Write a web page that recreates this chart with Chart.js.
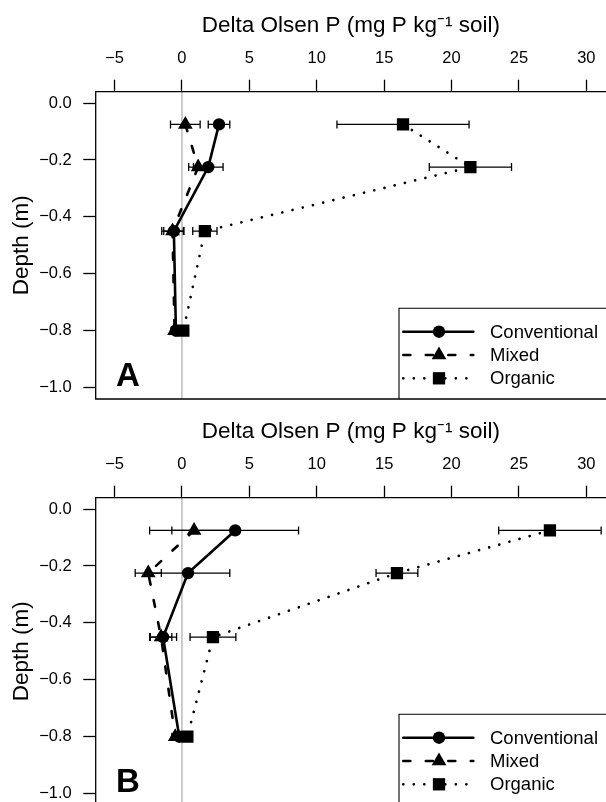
<!DOCTYPE html>
<html><head><meta charset="utf-8">
<script src="https://cdn.jsdelivr.net/npm/chart.js@4.4.1/dist/chart.umd.min.js"></script>
<style>
html,body{margin:0;padding:0;background:#fff;overflow:hidden;width:606px;height:802px;}
.panel{position:absolute;left:0;width:606px;height:406px;}
canvas{display:block;}
</style></head><body>
<div class="panel" style="top:0"><canvas id="cA" width="606" height="406"></canvas></div>
<div class="panel" style="top:406px"><canvas id="cB" width="606" height="406"></canvas></div>
<script>
// ---- data ----
const depths = [-0.075, -0.225, -0.45, -0.8];
const seriesNames = ['Conventional', 'Mixed', 'Organic'];
const xTicks = [-5, 0, 5, 10, 15, 20, 25, 30];
const yTicks = [0, -0.2, -0.4, -0.6, -0.8, -1.0];
const xTitle = 'Delta Olsen P (mg P kg\u207B\u00B9 soil)';
const yTitle = 'Depth (m)';

// Panel A
const convA = [2.75, 1.95, -0.6, -0.45];
const convAErr = [0.8, 1.1, 0.75, 0.25];
const mixedA = [0.25, 1.2, -0.7, -0.55];
const mixedAErr = [1.1, 0.7, 0.8, 0.25];
const orgA = [16.4, 21.4, 1.7, 0.1];
const orgAErr = [4.9, 3.05, 0.9, 0.25];

// Panel B
const convB = [3.95, 0.45, -1.4, -0.2];
const convBErr = [4.7, 3.1, 1.0, 0.25];
const mixedB = [0.9, -2.5, -1.55, -0.5];
const mixedBErr = [3.3, 0.97, 0.8, 0.25];
const orgB = [27.3, 15.95, 2.3, 0.4];
const orgBErr = [3.8, 1.55, 1.7, 0.25];

// ---- styling ----
const FONT = '"Liberation Sans", Arial, Helvetica, sans-serif';
Chart.defaults.font.family = FONT;
Chart.defaults.color = '#000';
const styles = [
  {pointStyle: 'circle', radius: 6.2, dash: [], width: 2.6},
  {pointStyle: 'triangle', radius: 8.5, dash: [7, 15.5], width: 2.6},
  {pointStyle: 'rect', radius: 8.7, dash: [0.01, 10.5], width: 2.7}
];

function fmtX(v) { return v < 0 ? '\u2212' + Math.abs(v) : String(v); }
function fmtY(v) {
  const r = Math.round(v * 10) / 10;
  return r === 0 ? '0.0' : (r < 0 ? '\u2212' : '') + Math.abs(r).toFixed(1);
}

function drawMarker(ctx, style, x, y, r) {
  ctx.beginPath();
  if (style === 'circle') {
    ctx.arc(x, y, r, 0, Math.PI * 2);
  } else if (style === 'triangle') {
    ctx.moveTo(x, y - r);
    ctx.lineTo(x + r * Math.sin(Math.PI * 2 / 3), y + r / 2);
    ctx.lineTo(x - r * Math.sin(Math.PI * 2 / 3), y + r / 2);
    ctx.closePath();
  } else {
    const s = r * Math.SQRT1_2;
    ctx.rect(x - s, y - s, 2 * s, 2 * s);
  }
  ctx.fillStyle = '#000';
  ctx.fill();
}

const decor = {
  id: 'decor',
  beforeDatasetsDraw(chart) {
    const {ctx, chartArea: a, scales: {x}} = chart;
    const px = x.getPixelForValue(0);
    ctx.save();
    ctx.strokeStyle = '#ababab';
    ctx.lineWidth = 1.2;
    ctx.beginPath();
    ctx.moveTo(px, a.top); ctx.lineTo(px, a.bottom);
    ctx.stroke();
    ctx.restore();
  },
  afterDatasetsDraw(chart, args, opts) {
    const {ctx, chartArea: a, scales: {x, y}} = chart;
    ctx.save();
    // error bars
    ctx.strokeStyle = '#000';
    ctx.lineWidth = 1.3;
    ctx.setLineDash([]);
    chart.data.datasets.forEach(ds => {
      ds.data.forEach((p, i) => {
        const e = ds.errors[i];
        const x1 = x.getPixelForValue(p.x - e), x2 = x.getPixelForValue(p.x + e);
        const py = y.getPixelForValue(p.y);
        ctx.beginPath();
        ctx.moveTo(x1, py); ctx.lineTo(x2, py);
        ctx.moveTo(x1, py - 4); ctx.lineTo(x1, py + 4);
        ctx.moveTo(x2, py - 4); ctx.lineTo(x2, py + 4);
        ctx.stroke();
      });
    });
    // frame (right edge lies outside the picture)
    ctx.lineWidth = 1.3;
    ctx.beginPath();
    ctx.moveTo(a.right + 2, a.top); ctx.lineTo(a.left, a.top);
    ctx.lineTo(a.left, a.bottom); ctx.lineTo(a.right + 2, a.bottom);
    ctx.stroke();
    // legend (bottom right)
    const bx = a.right - 207, by = a.bottom - 90.7;
    ctx.lineWidth = 1.1;
    ctx.beginPath();
    ctx.moveTo(a.right + 2, by); ctx.lineTo(bx, by); ctx.lineTo(bx, a.bottom);
    ctx.stroke();
    const rowY = [a.bottom - 67.3, a.bottom - 44, a.bottom - 20.7];
    const lx1 = bx + 4.3, lx2 = bx + 74.3, mx = bx + 40;
    ctx.font = '18.5px ' + FONT;
    ctx.textBaseline = 'middle';
    ctx.textAlign = 'left';
    ctx.fillStyle = '#000';
    chart.data.datasets.forEach((ds, k) => {
      const st = styles[k];
      ctx.save();
      ctx.lineWidth = st.width;
      ctx.lineCap = 'round';
      ctx.setLineDash(st.dash);
      ctx.beginPath();
      ctx.moveTo(lx1, rowY[k]); ctx.lineTo(lx2, rowY[k]);
      ctx.stroke();
      ctx.restore();
      drawMarker(ctx, st.pointStyle, mx, rowY[k], st.radius);
      ctx.fillText(ds.label, bx + 91, rowY[k] + 1);
    });
    // panel letter
    ctx.font = 'bold 33px ' + FONT;
    ctx.textBaseline = 'alphabetic';
    ctx.fillText(opts.letter, a.left + 20.3, a.bottom - 13);
    ctx.restore();
  }
};

function makePanel(id, letter, vals, errs) {
  const datasets = seriesNames.map((name, k) => ({
    label: name,
    data: depths.map((d, i) => ({x: vals[k][i], y: d})),
    errors: errs[k],
    showLine: true,
    borderColor: '#000',
    backgroundColor: '#000',
    borderWidth: styles[k].width,
    borderDash: styles[k].dash,
    borderCapStyle: 'round',
    pointStyle: styles[k].pointStyle,
    pointRadius: styles[k].radius,
    pointBorderWidth: 0,
    pointBackgroundColor: '#000',
    pointHoverRadius: styles[k].radius,
    tension: 0
  }));
  return new Chart(document.getElementById(id), {
    type: 'scatter',
    data: {datasets},
    plugins: [decor],
    options: {
      responsive: false,
      animation: false,
      devicePixelRatio: 1,
      events: [],
      layout: {autoPadding: false, padding: {left: 0, top: 0, right: 0, bottom: 7}},
      plugins: {
        legend: {display: false},
        tooltip: {enabled: false},
        title: {display: false},
        decor: {letter}
      },
      scales: {
        x: {
          type: 'linear', position: 'top', min: -6.4, max: 31.46,
          afterBuildTicks: s => { s.ticks = xTicks.map(v => ({value: v})); },
          afterFit: s => { s.height = 91.7; s.paddingLeft = 0; s.paddingRight = 0; },
          ticks: {callback: v => fmtX(v), font: {size: 16.5}, color: '#000', padding: 11, maxRotation: 0, autoSkip: false},
          grid: {drawOnChartArea: false, tickLength: 12, tickWidth: 1.3, tickColor: '#000'},
          border: {display: false},
          title: {display: true, text: xTitle, font: {size: 22.5}, color: '#000', padding: {top: 12.5, bottom: 0}}
        },
        y: {
          type: 'linear', position: 'left', min: -1.04, max: 0.04,
          afterBuildTicks: s => { s.ticks = yTicks.map(v => ({value: v})); },
          afterFit: s => { s.width = 95.7; s.paddingTop = 0; s.paddingBottom = 0; },
          ticks: {callback: v => fmtY(v), font: {size: 16.5}, color: '#000', padding: 11.6, autoSkip: false},
          grid: {drawOnChartArea: false, tickLength: 12.4, tickWidth: 1.3, tickColor: '#000'},
          border: {display: false},
          title: {display: true, text: yTitle, font: {size: 22.5}, color: '#000', padding: {top: 8.5, bottom: 0}}
        }
      }
    }
  });
}

makePanel('cA', 'A', [convA, mixedA, orgA], [convAErr, mixedAErr, orgAErr]);
makePanel('cB', 'B', [convB, mixedB, orgB], [convBErr, mixedBErr, orgBErr]);
</script>
</body></html>
